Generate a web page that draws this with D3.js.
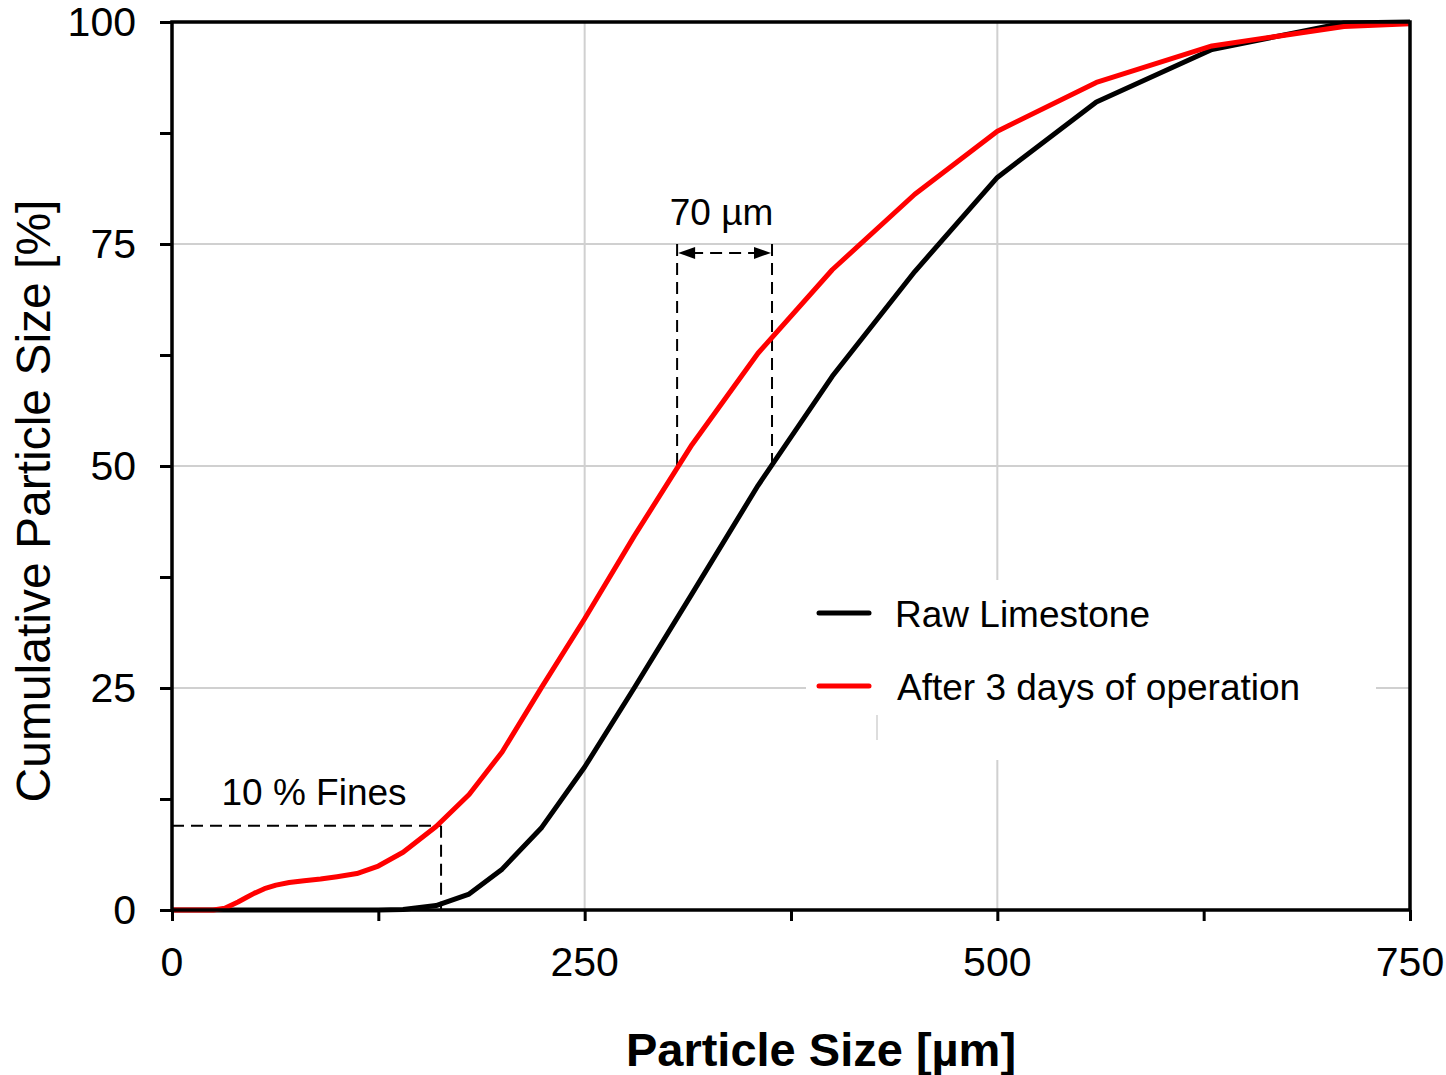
<!DOCTYPE html>
<html>
<head>
<meta charset="utf-8">
<script src="https://cdn.jsdelivr.net/npm/d3@7"></script>
<style>
  html, body { margin: 0; padding: 0; background: #fff; }
  svg text { font-family: "Liberation Sans", Arial, sans-serif; fill: #000; }
</style>
</head>
<body>
<svg id="chart" width="1446" height="1075"></svg>
<script>
// ---- data ----
const sizes = [0, 25, 32, 40, 45, 50, 56, 63, 71, 80, 90, 100, 112, 125, 140, 160, 180, 200, 224, 250, 280, 315, 355, 400, 450, 500, 560, 630, 710, 750];
const rawLimestone = [0, 0, 0, 0, 0, 0, 0, 0, 0, 0, 0, 0, 0, 0, 0.05, 0.5, 1.8, 4.6, 9.3, 16.1, 25.0, 35.6, 47.8, 60.1, 71.9, 82.5, 91.0, 96.9, 99.9, 100];
const after3Days   = [0, 0, 0.2, 0.9, 1.4, 1.9, 2.4, 2.8, 3.1, 3.3, 3.5, 3.75, 4.1, 4.95, 6.5, 9.4, 13.0, 17.8, 25.1, 32.8, 42.1, 52.4, 62.7, 72.1, 80.6, 87.7, 93.2, 97.3, 99.5, 99.8];
const seriesNames = ["Raw Limestone", "After 3 days of operation"];
const seriesColors = ["#000000", "#ff0000"];
const xTicks = [0, 250, 500, 750];
const xMinorTicks = [0, 125, 250, 375, 500, 625, 750];
const yTicks = [0, 25, 50, 75, 100];
const yMinorTicks = [0, 12.5, 25, 37.5, 50, 62.5, 75, 87.5, 100];
// annotations
const fines = { size: 163, pct: 9.5, label: "10 % Fines" };
const d50 = { red: 306, black: 363.5, pct: 50, top: 75, arrowPct: 74, label: "70 µm" };

// ---- layout ----
const svg = d3.select("#chart");
const pL = 172, pR = 1410, pT = 22, pB = 910;
const x = d3.scaleLinear().domain([0, 750]).range([pL, pR]);
const y = d3.scaleLinear().domain([0, 100]).range([pB, pT]);

// grid
const grid = svg.append("g");
grid.selectAll("line.gx").data(xTicks.filter(d => d > 0 && d < 750)).enter().append("line")
  .attr("x1", d => x(d)).attr("x2", d => x(d)).attr("y1", pT).attr("y2", pB)
  .attr("stroke", "#d0d0d0").attr("stroke-width", 2);
grid.selectAll("line.gy").data(yTicks.filter(d => d > 0 && d < 100)).enter().append("line")
  .attr("x1", pL).attr("x2", pR).attr("y1", d => y(d)).attr("y2", d => y(d))
  .attr("stroke", "#d0d0d0").attr("stroke-width", 2);

// legend background (covers grid)
const legend = svg.append("g");
legend.append("rect").attr("x", 806).attr("y", 580).attr("width", 570).attr("height", 180).attr("fill", "#fff");
legend.append("line").attr("x1", 877).attr("x2", 877).attr("y1", 715).attr("y2", 740)
  .attr("stroke", "#bbbbbb").attr("stroke-width", 1);

// annotations (dashed)
const ann = svg.append("g").attr("stroke", "#000").attr("stroke-width", 2).attr("stroke-dasharray", "12,7").attr("fill", "none");
ann.append("line").attr("x1", x(0)).attr("x2", x(fines.size)).attr("y1", y(fines.pct)).attr("y2", y(fines.pct));
ann.append("line").attr("x1", x(fines.size)).attr("x2", x(fines.size)).attr("y1", y(fines.pct)).attr("y2", y(0));
ann.append("line").attr("x1", x(d50.red)).attr("x2", x(d50.red)).attr("y1", y(d50.top)).attr("y2", y(d50.pct));
ann.append("line").attr("x1", x(d50.black)).attr("x2", x(d50.black)).attr("y1", y(d50.top)).attr("y2", y(d50.pct) - 4);
ann.append("line").attr("x1", x(d50.red) + 14).attr("x2", x(d50.black) - 14).attr("y1", y(d50.arrowPct)).attr("y2", y(d50.arrowPct));
// arrow heads
const ay = y(d50.arrowPct);
svg.append("path").attr("d", `M${x(d50.red)+1},${ay} L${x(d50.red)+18},${ay-6} L${x(d50.red)+18},${ay+6} Z`).attr("fill", "#000");
svg.append("path").attr("d", `M${x(d50.black)-1},${ay} L${x(d50.black)-18},${ay-6} L${x(d50.black)-18},${ay+6} Z`).attr("fill", "#000");
svg.append("text").attr("x", (x(d50.red) + x(d50.black)) / 2 - 3).attr("y", 225).attr("text-anchor", "middle")
  .style("font-size", "37px").text(d50.label);
svg.append("text").attr("x", 314).attr("y", 805).attr("text-anchor", "middle")
  .style("font-size", "37px").text(fines.label);

// series lines
const line = d3.line().x(d => x(d[0])).y(d => y(d[1]));
const allSeries = [rawLimestone, after3Days];
allSeries.forEach((vals, i) => {
  svg.append("path").datum(sizes.map((s, j) => [s, vals[j]]))
    .attr("d", line).attr("fill", "none").attr("stroke", seriesColors[i])
    .attr("stroke-width", 5).attr("stroke-linejoin", "round");
});

// axes
const xAxis = svg.append("g").attr("transform", `translate(0,${pB})`)
  .call(d3.axisBottom(x).tickValues(xMinorTicks).tickSize(11).tickFormat(""));
const yAxis = svg.append("g").attr("transform", `translate(${pL},0)`)
  .call(d3.axisLeft(y).tickValues(yMinorTicks).tickSize(12).tickFormat(""));
[xAxis, yAxis].forEach(a => {
  a.select(".domain").remove();
  a.selectAll(".tick line").attr("stroke", "#000").attr("stroke-width", 3);
});
// frame
svg.append("rect").attr("x", pL).attr("y", pT).attr("width", pR - pL).attr("height", pB - pT)
  .attr("fill", "none").attr("stroke", "#000").attr("stroke-width", 3.5);

// tick labels
svg.selectAll("text.xl").data(xTicks).enter().append("text")
  .attr("x", d => x(d)).attr("y", 976).attr("text-anchor", "middle")
  .style("font-size", "41px").text(d => d);
svg.selectAll("text.yl").data(yTicks).enter().append("text")
  .attr("x", 136).attr("y", d => y(d) + 14).attr("text-anchor", "end")
  .style("font-size", "41px").text(d => d);

// axis titles
svg.append("text").attr("x", 821).attr("y", 1066).attr("text-anchor", "middle")
  .style("font-size", "47px").style("font-weight", "bold").text("Particle Size [µm]");
svg.append("text").attr("transform", "translate(50,501) rotate(-90)").attr("text-anchor", "middle")
  .style("font-size", "48px").text("Cumulative Particle Size [%]");

// legend entries
const legY = [613, 686];
seriesNames.forEach((n, i) => {
  legend.append("line").attr("x1", 819).attr("x2", 869).attr("y1", legY[i]).attr("y2", legY[i])
    .attr("stroke", seriesColors[i]).attr("stroke-width", 5).attr("stroke-linecap", "round");
  legend.append("text").attr("x", i === 0 ? 895 : 897).attr("y", legY[i] + 14)
    .style("font-size", "37px").text(n);
});
</script>
</body>
</html>
